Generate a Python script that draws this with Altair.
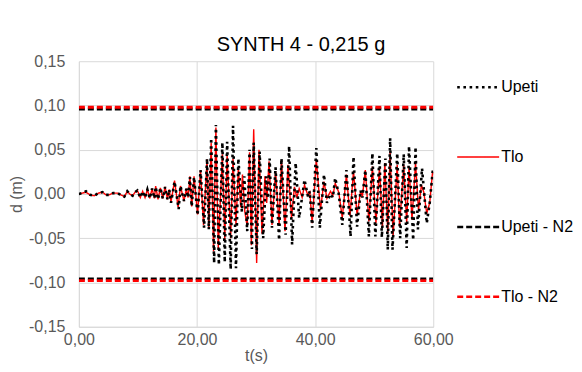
import altair as alt
import pandas as pd

# ---- data ----
t_tlo = [0, 0.6, 1.2, 1.9, 2.6, 3.3, 4.0, 4.6, 5.1, 5.8, 6.5, 7.1, 7.7, 8.2, 8.6, 9.1, 9.5, 9.9,
         10.4, 10.8, 11.2, 11.6, 12.0, 12.4, 12.8, 13.0, 13.4, 13.8, 14.2, 14.6, 15.0, 15.3, 15.6,
         16.2, 16.8, 17.2, 17.8, 18.2, 18.5, 18.8, 19.1, 19.5, 20.1, 20.6, 21.1, 21.7, 22.0, 22.4,
         22.8, 23.2, 23.6, 24.3, 24.7, 25.1, 25.7, 26.1, 26.6, 27.0, 27.4, 27.7, 28.1, 28.5, 28.9,
         29.2, 29.6, 30.1, 30.5, 31.0, 31.5, 31.8, 32.2, 32.7, 33.3, 33.9, 34.3, 34.9, 35.4, 36.0,
         36.5, 36.9, 37.3, 37.8, 38.2, 38.8, 39.1, 39.5, 40.2, 40.9, 41.5, 42.0, 42.6, 43.0, 43.4,
         44.0, 44.6, 45.3, 45.9, 46.5, 47.1, 47.7, 48.0, 48.5, 49.1, 49.7, 50.3, 50.9, 51.4, 51.8,
         52.3, 52.7, 53.2, 53.9, 54.3, 55.0, 55.5, 55.9, 56.4, 57.0, 57.5, 58.0, 58.4, 58.9, 59.4,
         59.9, 60.0]
d_tlo = [0.000, 0.001, 0.002, -0.001, -0.002, 0.001, 0.002, -0.001, -0.001, 0.001, 0.001, -0.001,
         -0.003, 0.003, 0.000, -0.002, 0.002, 0.004,
         -0.004, 0.003, -0.004, 0.005, -0.005, 0.006, -0.005, 0.009, -0.006, 0.007, -0.005, 0.008,
         -0.006, 0.005, -0.009,
         0.015, -0.015, 0.009, -0.008, 0.006, -0.004, 0.020, -0.014, 0.020, -0.023, 0.027, -0.035,
         0.039, -0.038, 0.058,
         -0.065, 0.075, -0.061, 0.045, -0.052, 0.044, -0.050, 0.040, -0.035, 0.030, -0.015, 0.022,
         -0.020, -0.037, 0.047,
         -0.058, 0.073, -0.078, 0.050, -0.045, 0.020, -0.010, 0.037, -0.035, 0.026, -0.035, 0.038,
         -0.042, 0.033, -0.027,
         0.008, -0.004, 0.006, -0.004, 0.010, -0.002, 0.002, -0.033, 0.039, -0.018, 0.014, -0.005,
         0.003, -0.002, 0.012,
         0.002, -0.027, 0.022, -0.025, 0.026, -0.024, 0.003, -0.003, 0.027, -0.031, 0.031, -0.033,
         0.030, -0.037, 0.035,
         -0.044, 0.048, -0.048, 0.033, -0.037, 0.033, -0.033, 0.031, -0.029, 0.035, -0.018, 0.010,
         0.002, -0.022, -0.010,
         0.026, 0.022]

t_upeti = [0, 0.6, 1.2, 1.9, 2.6, 3.3, 4.0, 4.6, 5.1, 5.8, 6.5, 7.1, 7.7, 8.2, 8.6, 9.1, 9.5, 9.9,
           10.4, 10.8, 11.2, 11.6, 12.0, 12.4, 12.8, 13.0, 13.4, 13.8, 14.2, 14.6, 15.0, 15.3, 15.6,
           16.2, 16.9, 17.2, 17.8, 18.2, 18.5, 18.8, 19.1, 19.5, 20.1, 20.6, 21.2, 21.7, 22.0, 22.4,
           22.9, 23.2, 23.7, 24.3, 24.7, 25.1, 25.7, 26.1, 26.6, 27.0, 27.6, 28.0, 28.5, 28.9, 29.3,
           29.6, 30.1, 30.6, 31.2, 31.7, 32.0, 32.3, 32.7, 33.3, 33.9, 34.3, 35.0, 35.6, 36.1, 36.7,
           37.3, 38.2, 38.8, 39.1, 39.5, 40.2, 40.8, 41.5, 42.0, 42.6, 43.0, 43.4, 44.0, 44.6, 45.3,
           46.0, 46.5, 47.1, 47.7, 48.0, 48.5, 49.1, 49.7, 50.2, 50.9, 51.3, 51.9, 52.3, 52.7, 53.1,
           53.9, 54.4, 55.0, 55.5, 55.9, 56.6, 57.0, 57.4, 58.1, 58.9, 59.4, 59.9, 60.0]
d_upeti = [0.000, 0.001, 0.003, -0.001, -0.002, 0.001, 0.002, -0.001, -0.001, 0.001, 0.001, -0.001,
           -0.003, 0.003, 0.000, -0.002, 0.002, 0.004,
           -0.004, 0.003, -0.004, 0.005, -0.005, 0.006, -0.005, 0.008, -0.006, 0.007, -0.005, 0.008,
           -0.006, 0.005, -0.010,
           0.014, -0.017, 0.009, -0.008, 0.006, -0.004, 0.019, -0.014, 0.019, -0.024, 0.027, -0.038,
           0.040, -0.040, 0.063,
           -0.078, 0.078, -0.080, 0.058, -0.077, 0.059, -0.085, 0.077, -0.084, 0.040, -0.020, 0.020,
           -0.042, 0.050, -0.062,
           0.058, -0.068, 0.048, -0.050, 0.020, -0.005, 0.040, -0.038, 0.030, -0.052, 0.040, -0.046,
           0.054, -0.057, 0.035,
           -0.027, 0.016, -0.003, 0.003, -0.038, 0.052, -0.038, 0.022, -0.010, 0.000, -0.004, 0.018,
           0.000, -0.035, 0.027,
           -0.048, 0.042, -0.037, 0.004, -0.004, 0.027, -0.048, 0.046, -0.048, 0.043, -0.049, 0.040,
           -0.063, 0.063, -0.063,
           0.046, -0.050, 0.045, -0.061, 0.054, -0.052, 0.053, -0.040, 0.029, -0.033, -0.010, 0.025,
           0.025]

# design limits (N2), constant over the record
t_limits = [0, 60]
upeti_n2 = 0.096
tlo_n2 = 0.098

series_names = ["Upeti", "Tlo", "Upeti - N2", "Tlo - N2"]
series_colors = ["#000000", "#ff0000", "#000000", "#ff0000"]
series_dash = [[2.6, 3.6], [1, 0], [6, 3], [6, 3]]
series_width = {"Upeti": 2.6, "Tlo": 1.4, "Upeti - N2": 2.8, "Tlo - N2": 2.8}

rows = []
# Tlo first so that the dotted Upeti trace is drawn on top of it
for t, d in zip(t_tlo, d_tlo):
    rows.append({"t": t, "d": d, "series": "Tlo", "part": "a"})
for t, d in zip(t_upeti, d_upeti):
    rows.append({"t": t, "d": d, "series": "Upeti", "part": "a"})
for name, lim in [("Upeti - N2", upeti_n2), ("Tlo - N2", tlo_n2)]:
    for sign, part in [(1, "up"), (-1, "down")]:
        for t in t_limits:
            rows.append({"t": t, "d": sign * lim, "series": name, "part": part})
df = pd.DataFrame(rows)
df["w"] = df["series"].map(series_width)

fmt = "replace(replace(format(datum.value, '.2f'), '.', ','), '\u2212', '-')"
FONT = "Arial, Liberation Sans"

legend = alt.Legend(
    title=None, orient="none", legendX=392, legendY=18,
    symbolType="stroke", symbolSize=1764,
    symbolStrokeWidth=alt.ExprRef(expr="datum.value === 'Tlo' ? 1.4 : 2.6"),
    labelFontSize=16, labelColor="#000000",
    labelFont=FONT, rowPadding=54, labelOffset=15, padding=0,
)

chart = alt.Chart(df).mark_line(clip=True).encode(
    x=alt.X("t:Q", scale=alt.Scale(domain=[0, 60], nice=False),
            axis=alt.Axis(title="t(s)", values=[0, 20, 40, 60], labelExpr=fmt, labelFlush=False)),
    y=alt.Y("d:Q", scale=alt.Scale(domain=[-0.15, 0.15], nice=False),
            axis=alt.Axis(title="d (m)", values=[-0.15, -0.10, -0.05, 0, 0.05, 0.10, 0.15],
                          labelExpr=fmt, labelFlush=False)),
    color=alt.Color("series:N", scale=alt.Scale(domain=series_names, range=series_colors), legend=legend),
    strokeDash=alt.StrokeDash("series:N", scale=alt.Scale(domain=series_names, range=series_dash), legend=legend),
    strokeWidth=alt.StrokeWidth("w:Q", scale=None, legend=None),
    detail="part:N",
    order=alt.Order("t:Q"),
).properties(
    width=355, height=266,
    title=alt.Title("SYNTH 4 - 0,215 g", fontSize=20, font=FONT,
                    fontWeight="normal", color="#000000", offset=-2, dx=45),
    padding={"left": 0, "top": 27, "right": 0, "bottom": 0},
).configure_view(stroke=None).configure_axis(
    grid=True, gridColor="#d9d9d9", gridWidth=1,
    domainColor="#d9d9d9", tickSize=0, ticks=False,
    labelFont=FONT, labelFontSize=16, labelColor="#595959",
    titleFont=FONT, titleFontSize=16, titleColor="#595959",
    titleFontWeight="normal",
).configure_axisY(labelPadding=14, titlePadding=4).configure_axisX(labelPadding=5, titlePadding=0)

chart.save("out.html", embed_options={"renderer": "svg", "actions": False})
